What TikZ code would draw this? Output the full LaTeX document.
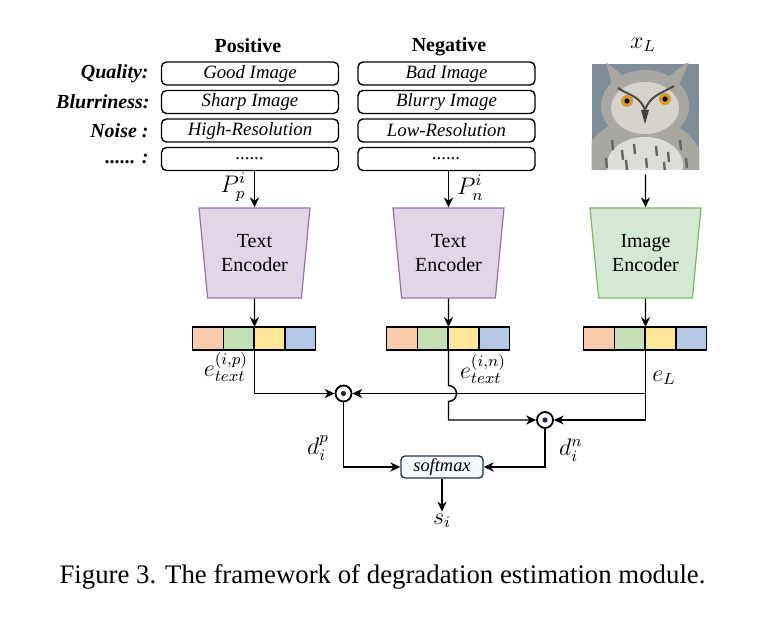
\documentclass[tikz,border=0pt]{standalone}
\usepackage{fontspec}
\setmainfont{Liberation Serif}
\usepackage{amsmath}
\usetikzlibrary{calc}
\usetikzlibrary{arrows.meta}
\usetikzlibrary{shapes.geometric}

\definecolor{encpurple}{HTML}{E1D5E7}
\definecolor{encpurpleline}{HTML}{9673A6}
\definecolor{encgreen}{HTML}{D5E8D4}
\definecolor{encgreenline}{HTML}{82B366}
\definecolor{cellO}{HTML}{F8CBAD}
\definecolor{cellG}{HTML}{C5E0B4}
\definecolor{cellY}{HTML}{FFE699}
\definecolor{cellB}{HTML}{B4C7E7}
\definecolor{smaxfill}{HTML}{F4F8FB}
\definecolor{smaxline}{HTML}{22364A}
\definecolor{dotnavy}{HTML}{1C2740}
\definecolor{owlbg}{HTML}{7F8D96}
\definecolor{owlgray}{HTML}{A9A7A2}
\definecolor{owlface}{HTML}{D6D3CD}
\definecolor{owleye}{HTML}{D49A2E}

\tikzset{
  promptbox/.style={draw, line width=0.7pt, rounded corners=2.5pt, minimum width=88.5pt,
    minimum height=11.5pt, inner sep=0pt, font=\fontsize{9.4}{11}\selectfont\itshape},
  rowlabel/.style={anchor=east, inner sep=0pt, font=\fontsize{10}{12}\selectfont\bfseries\itshape},
  header/.style={font=\fontsize{10}{12}\selectfont\bfseries},
  encoder/.style={trapezium, trapezium angle=77, shape border rotate=180, trapezium stretches body,
    minimum width=55.5pt, minimum height=45pt, inner sep=0pt, line width=0.6pt, align=center,
    font=\fontsize{10}{12}\selectfont},
  textenc/.style={encoder, draw=encpurpleline, fill=encpurple},
  imgenc/.style={encoder, draw=encgreenline, fill=encgreen},
  embbar/.style={minimum width=61.5pt, minimum height=11pt, inner sep=0pt},
  arr/.style={line width=0.7pt, -{Stealth[length=5pt,width=4.6pt]}},
  ln/.style={line width=0.7pt},
  odot/.style={circle, draw, line width=0.9pt, fill=white, minimum size=8pt, inner sep=0pt},
  smaxbox/.style={draw=smaxline, fill=smaxfill, line width=0.7pt, rounded corners=2pt,
    minimum width=41pt, minimum height=11pt, inner sep=0pt, font=\fontsize{9.2}{11}\selectfont\itshape},
  mlabel/.style={inner sep=1pt, font=\fontsize{12}{14}\selectfont}
}

\begin{document}
\begin{tikzpicture}[x=0.5pt,y=-0.5pt]
  \useasboundingbox (0,0) rectangle (762,624);

  % prompts
  \node[header] (pos) at (248,46) {Positive};
  \node[header] (neg) at (449,47) {Negative};
  \node[mlabel] (xl) at (643,45) {$x_L$};

  \node[rowlabel] (lq) at (149,73.5) {Quality:};
  \node[rowlabel] (lb) at (150,102) {Blurriness:};
  \node[rowlabel] (ln) at (149,130.5) {Noise :};
  \node[rowlabel] (ld) at (149,158.5) {...... :};

  \node[promptbox] (p1) at (250,73.5) {Good Image};
  \node[promptbox] (p2) at (250,102) {Sharp Image};
  \node[promptbox] (p3) at (250,130.5) {High-Resolution};
  \node[promptbox] (p4) at (250,159) {......};
  \node[promptbox] (n1) at (446.5,73.5) {Bad Image};
  \node[promptbox] (n2) at (446.5,102) {Blurry Image};
  \node[promptbox] (n3) at (446.5,130.5) {Low-Resolution};
  \node[promptbox] (n4) at (446.5,159) {......};

  % input image
  \node[minimum width=53.5pt, minimum height=52.5pt, inner sep=0pt] (owl) at (645.5,116.5) {};
  \begin{scope}
    \clip (owl.north west) rectangle (owl.south east);
    \fill[owlbg] (owl.north west) rectangle (owl.south east);
    \fill[owlgray] (606,62) -- (614,92) -- (628,80) -- cycle;
    \fill[owlgray] (690,60) -- (676,92) -- (664,80) -- cycle;
    \fill[owlgray] (643,172) ellipse [x radius=62, y radius=55];
    \fill[owlgray] (645,106) ellipse [x radius=44, y radius=36];
    \fill[owlface] (645,108) ellipse [x radius=34, y radius=26];
    \fill[owlface!80!white] (645,165) ellipse [x radius=38, y radius=28];
    \draw[black!70, line width=1pt] (618,88) .. controls (630,96) and (640,96) .. (645,110);
    \draw[black!70, line width=1pt] (674,86) .. controls (660,94) and (650,96) .. (645,110);
    \fill[owleye] (627,101) circle (6);
    \fill[owleye] (665,99) circle (6);
    \fill[black] (627,101) circle (2.6);
    \fill[black] (665,99) circle (2.6);
    \fill[black!75] (641,110) -- (649,110) -- (645,124) -- cycle;
    \foreach \sx/\sy in {612/140, 622/150, 634/144, 656/146, 668/152, 680/140, 626/160, 646/158, 664/162, 606/158, 686/158}
      \draw[black!60, line width=1.2pt] (\sx,\sy) -- ++(1,10);
  \end{scope}

  % encoders
  \node[textenc] (tencp) at (254.5,253) {Text\\Encoder};
  \node[textenc] (tencn) at (448.5,253) {Text\\Encoder};
  \node[imgenc] (ienc) at (645.5,253) {Image\\Encoder};

  % embedding bars
  \foreach \nm/\xc in {barp/254.5, barn/448.5, barl/645.5}{
    \node[embbar] (\nm) at (\xc,338.5) {};
    \foreach \cc [count=\k] in {cellO,cellG,cellY,cellB}
      \draw[fill=\cc, line width=0.8pt] ($(\nm.north west)+(30.75*\k-30.75,0)$) rectangle ($(\nm.south west)+(30.75*\k,0)$);
  }

  \draw[arr] (tencp.north |- p4.south) -- node[mlabel, left=3pt, pos=0.45] (ppi) {$P_p^i$} (tencp.north);
  \draw[arr] (tencn.north |- n4.south) -- node[mlabel, right=3pt, pos=0.45] (pni) {$P_n^i$} (tencn.north);
  \draw[arr, shorten <=2.5pt] (owl.south) -- (ienc.north);
  \draw[arr] (tencp.south) -- (barp.north);
  \draw[arr] (tencn.south) -- (barn.north);
  \draw[arr] (ienc.south) -- (barl.north);

  % similarity
  \node[odot] (dotp) at (343.5,393.5) {};
  \fill[dotnavy] (dotp) circle (2.6);
  \node[odot] (dotn) at (545,420) {};
  \fill[dotnavy] (dotn) circle (2.6);
  \node[smaxbox] (smax) at (442,467) {softmax};
  \node[mlabel] (si) at (442,521) {$s_i$};

  \draw[arr] (barp.south) |- (dotp);
  \draw[arr] (barl.south) |- (dotn);
  \draw[arr] (barl.south |- dotp) -- (dotp);
  \draw[arr] (barn.south) -- ($(barn.south |- dotp)+(0,-8)$) arc[start angle=-90, end angle=90, radius=8]
    -- (barn.south |- dotn) -- (dotn);
  \draw[arr] (dotp) |- (smax.west);
  \draw[arr] (dotn) |- (smax.east);
  \draw[arr] (smax.south) -- (si.north);

  \node[mlabel] (etp) at (226,367) {$e_{text}^{(i,p)}$};
  \node[mlabel] (etn) at (483,369) {$e_{text}^{(i,n)}$};
  \node[mlabel] (el) at (664,378) {$e_L$};
  \node[mlabel] (dp) at (318,448) {$d_i^p$};
  \node[mlabel] (dn) at (571,450) {$d_i^n$};

  \node[font=\fontsize{13.4}{16}\selectfont] (cap) at (382.5,577) {Figure 3. The framework of degradation estimation module.};
\end{tikzpicture}
\end{document}
